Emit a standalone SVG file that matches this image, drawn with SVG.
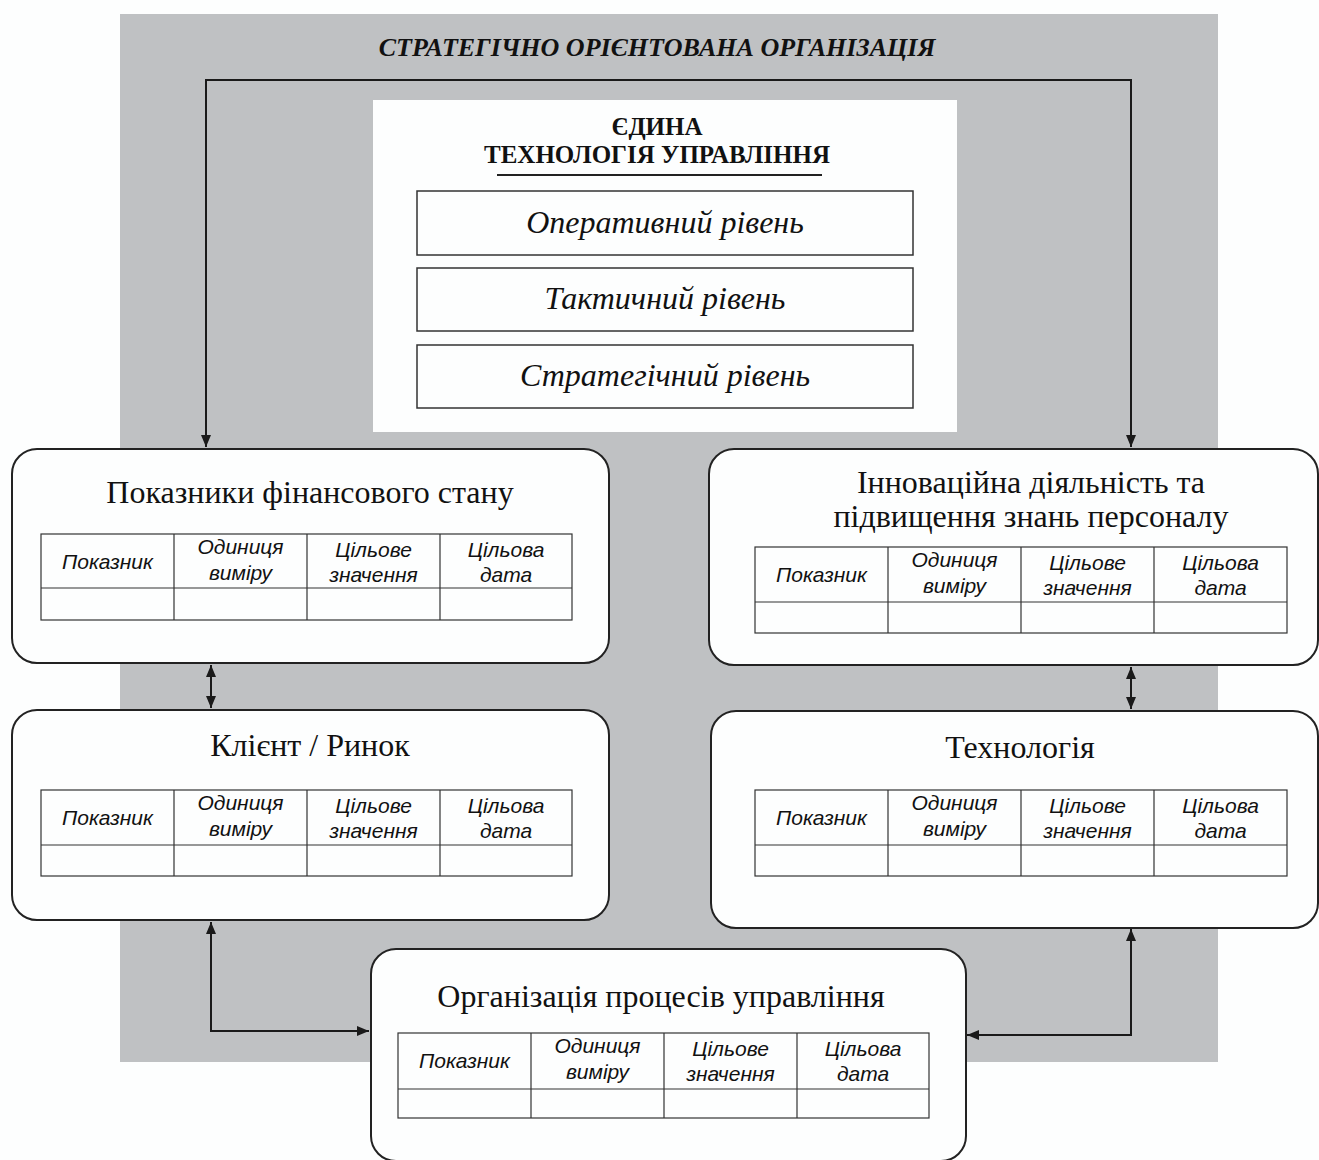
<svg xmlns="http://www.w3.org/2000/svg" width="1319" height="1160" viewBox="0 0 1319 1160">
<style>
.bg{fill:#bfc1c3}
.box{fill:#fdfefe;stroke:#222;stroke-width:2}
.lvl{fill:#fdfefe;stroke:#333;stroke-width:1.5}
.tbl{fill:none;stroke:#333;stroke-width:1.2}
.conn{fill:none;stroke:#1a1a1a;stroke-width:2}
.title{font-family:"Liberation Serif",serif;font-size:26px;font-weight:bold;font-style:italic;fill:#111;text-anchor:middle}
.hdr{font-family:"Liberation Serif",serif;font-size:25px;font-weight:bold;fill:#111;text-anchor:middle}
.lvlt{font-family:"Liberation Serif",serif;font-size:32px;font-style:italic;fill:#111;text-anchor:middle}
.bt{font-family:"Liberation Serif",serif;font-size:32px;fill:#111;text-anchor:middle}
.tt{font-family:"Liberation Sans",Arial,sans-serif;font-size:21px;font-style:italic;fill:#111;text-anchor:middle}
</style>
<defs>
<marker id="ah" viewBox="0 0 12 10" refX="12" refY="5" markerWidth="12" markerHeight="10" markerUnits="userSpaceOnUse" orient="auto-start-reverse">
<path d="M0,0 L12,5 L0,10 z" fill="#1a1a1a"/>
</marker>
</defs>
<rect width="1319" height="1160" fill="#fdfefe"/>
<rect class="bg" x="120" y="14" width="1098" height="1048"/>
<text class="title" x="657" y="56">СТРАТЕГІЧНО ОРІЄНТОВАНА ОРГАНІЗАЦІЯ</text>

<g id="connectors">
<path class="conn" d="M206,447 L206,80 L1131,80 L1131,447" marker-start="url(#ah)" marker-end="url(#ah)"/>
<path class="conn" d="M211,665 L211,708" marker-start="url(#ah)" marker-end="url(#ah)"/>
<path class="conn" d="M1131,667 L1131,709" marker-start="url(#ah)" marker-end="url(#ah)"/>
<path class="conn" d="M211,922 L211,1031 L369,1031" marker-start="url(#ah)" marker-end="url(#ah)"/>
<path class="conn" d="M1131,929 L1131,1035 L967,1035" marker-start="url(#ah)" marker-end="url(#ah)"/>
</g>

<g id="tech">
<rect x="373" y="100" width="584" height="332" fill="#fdfefe"/>
<text class="hdr" x="657" y="135">ЄДИНА</text>
<text class="hdr" x="657" y="163">ТЕХНОЛОГІЯ УПРАВЛІННЯ</text>
<line x1="497" y1="175" x2="822" y2="175" stroke="#222" stroke-width="2"/>
<g id="level-op"><rect class="lvl" x="417" y="191" width="496" height="64"/><text class="lvlt" x="665" y="233">Оперативний рівень</text></g>
<g id="level-tac"><rect class="lvl" x="417" y="268" width="496" height="63"/><text class="lvlt" x="665" y="309">Тактичний рівень</text></g>
<g id="level-str"><rect class="lvl" x="417" y="345" width="496" height="63"/><text class="lvlt" x="665" y="386">Стратегічний рівень</text></g>
</g>

<g id="fin">
<rect class="box" x="12" y="449" width="597" height="214" rx="25"/>
<text class="bt" x="310" y="503">Показники фінансового стану</text>
<rect class="tbl" x="41" y="534" width="531" height="86"/>
<path class="tbl" d="M41,588H572M174,534V620M307,534V620M440,534V620"/>
<text class="tt" x="107.5" y="569">Показник</text>
<text class="tt" x="240.5" y="554">Одиниця</text><text class="tt" x="240.5" y="580">виміру</text>
<text class="tt" x="373.5" y="557">Цільове</text><text class="tt" x="373.5" y="582">значення</text>
<text class="tt" x="506" y="557">Цільова</text><text class="tt" x="506" y="582">дата</text>
</g>

<g id="client">
<rect class="box" x="12" y="710" width="597" height="210" rx="25"/>
<text class="bt" x="310" y="756">Клієнт / Ринок</text>
<rect class="tbl" x="41" y="790" width="531" height="86"/>
<path class="tbl" d="M41,845H572M174,790V876M307,790V876M440,790V876"/>
<text class="tt" x="107.5" y="825">Показник</text>
<text class="tt" x="240.5" y="810">Одиниця</text><text class="tt" x="240.5" y="836">виміру</text>
<text class="tt" x="373.5" y="813">Цільове</text><text class="tt" x="373.5" y="838">значення</text>
<text class="tt" x="506" y="813">Цільова</text><text class="tt" x="506" y="838">дата</text>
</g>

<g id="innov">
<rect class="box" x="709" y="449" width="609" height="216" rx="25"/>
<text class="bt" x="1031" y="493">Інноваційна діяльність та</text>
<text class="bt" x="1031" y="527">підвищення знань персоналу</text>
<rect class="tbl" x="755" y="547" width="532" height="86"/>
<path class="tbl" d="M755,602H1287M888,547V633M1021,547V633M1154,547V633"/>
<text class="tt" x="821.5" y="582">Показник</text>
<text class="tt" x="954.5" y="567">Одиниця</text><text class="tt" x="954.5" y="593">виміру</text>
<text class="tt" x="1087.5" y="570">Цільове</text><text class="tt" x="1087.5" y="595">значення</text>
<text class="tt" x="1220.5" y="570">Цільова</text><text class="tt" x="1220.5" y="595">дата</text>
</g>

<g id="technology">
<rect class="box" x="711" y="711" width="607" height="217" rx="25"/>
<text class="bt" x="1020" y="758">Технологія</text>
<rect class="tbl" x="755" y="790" width="532" height="86"/>
<path class="tbl" d="M755,845H1287M888,790V876M1021,790V876M1154,790V876"/>
<text class="tt" x="821.5" y="825">Показник</text>
<text class="tt" x="954.5" y="810">Одиниця</text><text class="tt" x="954.5" y="836">виміру</text>
<text class="tt" x="1087.5" y="813">Цільове</text><text class="tt" x="1087.5" y="838">значення</text>
<text class="tt" x="1220.5" y="813">Цільова</text><text class="tt" x="1220.5" y="838">дата</text>
</g>

<g id="process">
<rect class="box" x="371" y="949" width="595" height="212" rx="25"/>
<text class="bt" x="661" y="1007">Організація процесів управління</text>
<rect class="tbl" x="398" y="1033" width="531" height="85"/>
<path class="tbl" d="M398,1089H929M531,1033V1118M664,1033V1118M797,1033V1118"/>
<text class="tt" x="464.5" y="1068">Показник</text>
<text class="tt" x="597.5" y="1053">Одиниця</text><text class="tt" x="597.5" y="1079">виміру</text>
<text class="tt" x="730.5" y="1056">Цільове</text><text class="tt" x="730.5" y="1081">значення</text>
<text class="tt" x="863" y="1056">Цільова</text><text class="tt" x="863" y="1081">дата</text>
</g>
</svg>
